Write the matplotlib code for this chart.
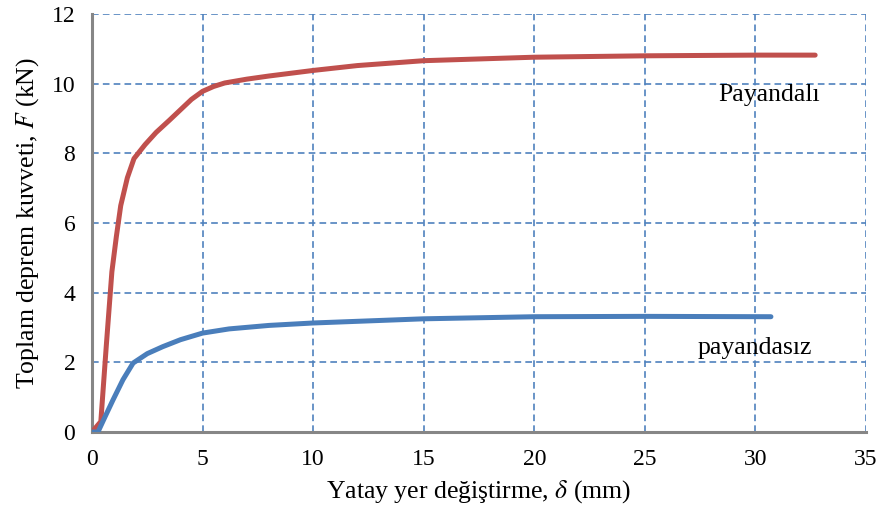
import matplotlib.pyplot as plt
import numpy as np

plt.rcParams['font.family'] = ['Liberation Serif', 'DejaVu Serif']
plt.rcParams['mathtext.fontset'] = 'stix'

# payandali (braced) curve
x_red = [0, 0.4, 0.65, 0.9, 1.1, 1.3, 1.6, 1.9, 2.4, 2.9, 3.5, 4.0, 4.5, 5.0, 5.5, 6.0, 7.0, 8.0, 10.0, 12.0, 15.0, 20.0, 25.0, 30.0, 32.7]
y_red = [0, 0.3, 2.5, 4.6, 5.6, 6.5, 7.3, 7.85, 8.25, 8.6, 8.95, 9.25, 9.55, 9.78, 9.92, 10.02, 10.13, 10.22, 10.38, 10.52, 10.66, 10.76, 10.8, 10.82, 10.82]

# payandasiz (unbraced) curve
x_blue = [0, 0.27, 0.6, 0.95, 1.4, 1.86, 2.5, 3.2, 4.0, 5.0, 6.2, 8.0, 10.0, 15.0, 20.0, 25.0, 30.7]
y_blue = [0, 0, 0.45, 0.92, 1.5, 1.98, 2.25, 2.45, 2.65, 2.84, 2.96, 3.06, 3.13, 3.25, 3.31, 3.32, 3.31]

xticks = np.arange(0, 36, 5)
yticks = np.arange(0, 13, 2)

fig = plt.figure(figsize=(8.81, 5.19), dpi=100)
ax = fig.add_axes([0.1044, 0.1676, 0.8786, 0.8054])

ax.plot(x_red, y_red, color='#C0504D', lw=3.6, solid_capstyle='round', solid_joinstyle='round', zorder=3)
ax.plot(x_blue, y_blue, color='#4A7EBB', lw=3.6, solid_capstyle='round', solid_joinstyle='round', zorder=3)

ax.set_xlim(0, 35)
ax.set_ylim(0, 12)
ax.set_xticks(xticks)
ax.set_yticks(yticks)
ax.grid(True, color='#4F81BD', ls=(0, (4, 2.5)), lw=1.2)
ax.tick_params(length=0, labelsize=17)
ax.tick_params(axis='x', pad=12)
ax.tick_params(axis='y', pad=12)

for s in ['top', 'right']:
    ax.spines[s].set_visible(False)
for s in ['left', 'bottom']:
    ax.spines[s].set_color('#868686')
    ax.spines[s].set_linewidth(2.2)

ax.set_xlabel(r'Yatay yer değiştirme, $\mathit{\delta}$ (mm)', fontsize=18.5, labelpad=6)
ax.set_ylabel(r'Toplam deprem kuvveti, $\mathit{F}$ (kN)', fontsize=18.5, labelpad=8)

ax.text(30.6, 9.68, 'Payandalı', fontsize=18.5, ha='center', va='center')
ax.text(29.95, 2.41, 'payandasız', fontsize=18.5, ha='center', va='center')

plt.savefig('out.png', dpi=100)
